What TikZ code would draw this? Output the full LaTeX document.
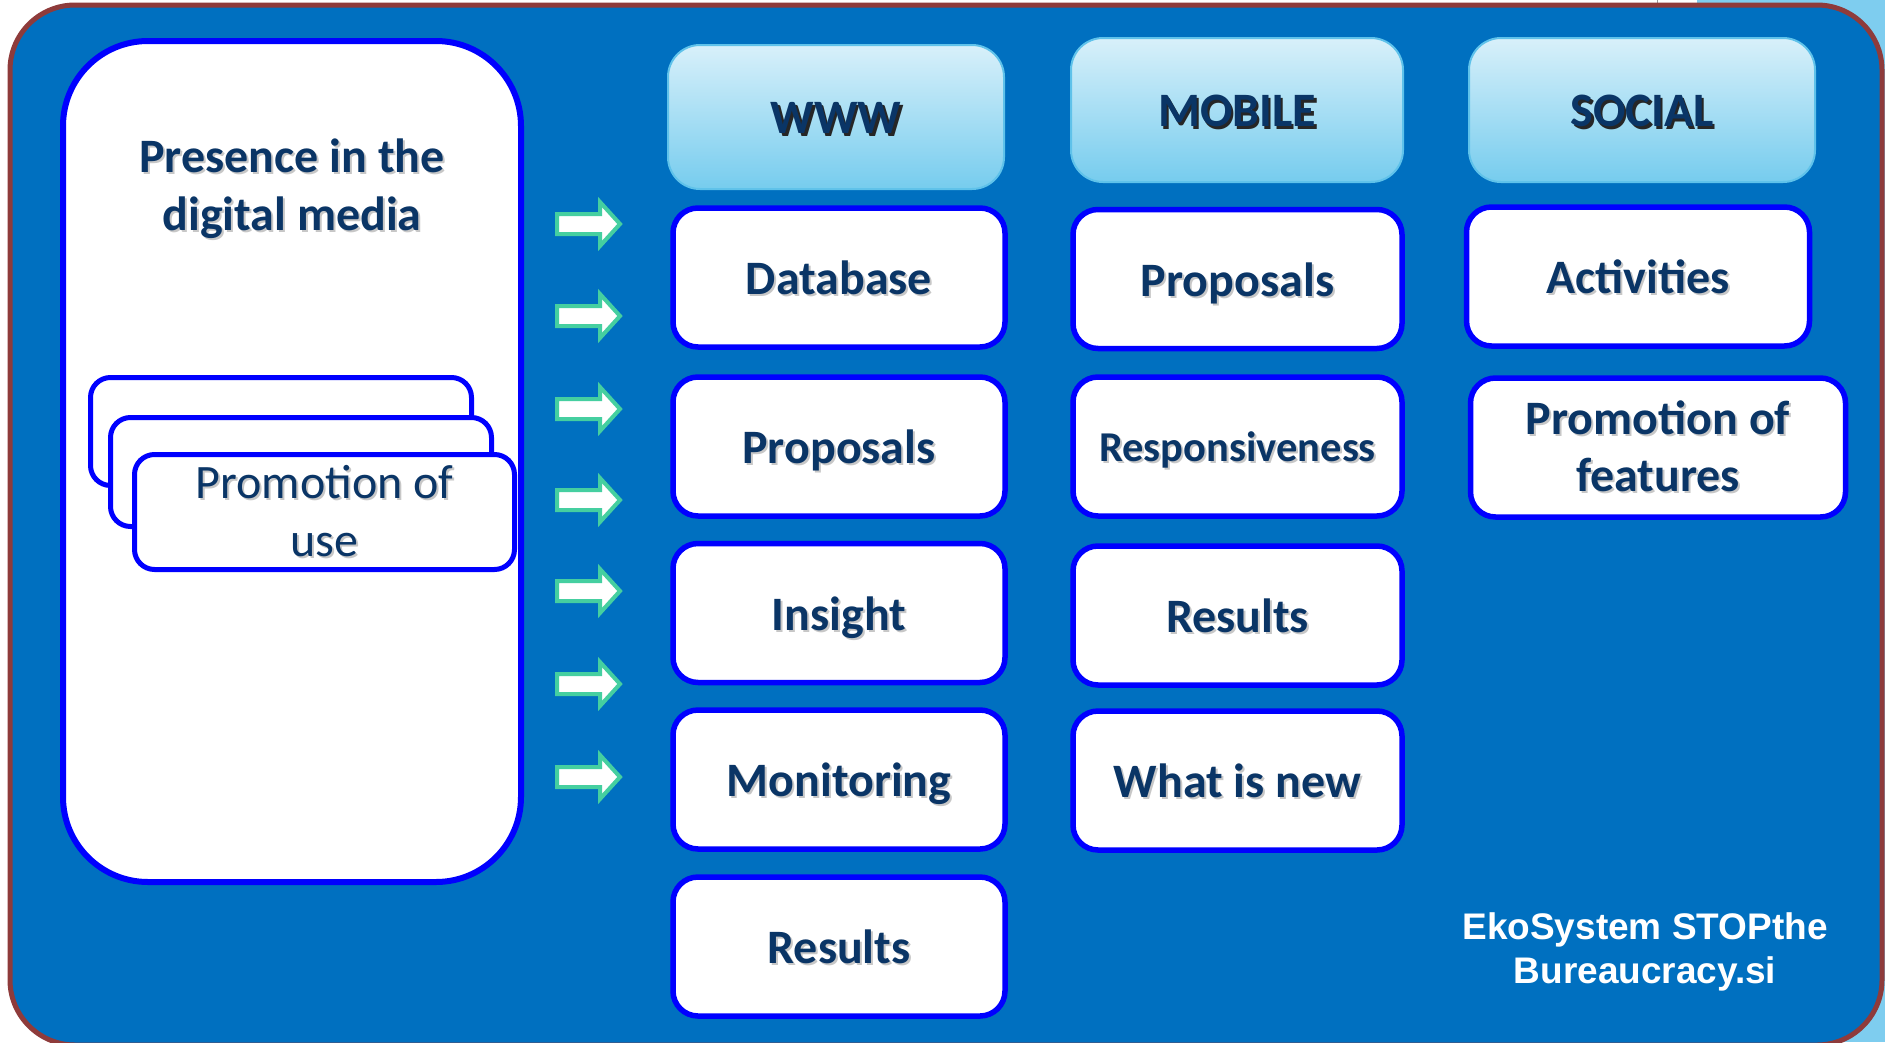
\documentclass[tikz,border=0pt]{standalone}
\usepackage{fontspec}
\setmainfont{Carlito}
\newfontfamily\arialfont{Liberation Sans}
\definecolor{bgblue}{HTML}{0070C0}
\definecolor{brownb}{HTML}{8E3B3B}
\definecolor{boxblue}{HTML}{0000FF}
\definecolor{navy}{HTML}{0A3566}
\definecolor{arrgreen}{HTML}{45CFA0}
\definecolor{hdtop}{HTML}{D8F0FA}
\definecolor{hdbot}{HTML}{76CCEE}
\definecolor{hdline}{HTML}{5FC2EA}
\definecolor{ltblue}{HTML}{7ECDEF}
\newcommand\shd[1]{\leavevmode\rlap{\kern2pt\raisebox{-2pt}{\textcolor{black!22}{#1}}}#1}
\newcommand\shdk[1]{\leavevmode\rlap{\kern2.5pt\raisebox{-2.5pt}{\textcolor{black!85}{#1}}}#1}
\begin{document}
\begin{tikzpicture}[x=1pt,y=-1pt,
  panelbox/.style={draw=boxblue, line width=6pt, fill=white, rounded corners=85pt, inner sep=0pt},
  card/.style={draw=boxblue, line width=5pt, fill=white, rounded corners=20pt, inner sep=0pt, text=navy, align=center},
  itembox/.style={draw=boxblue, line width=5.5pt, fill=white, rounded corners=25pt, inner sep=0pt,
     text=navy, align=center, minimum height=139pt, text height=40pt, text depth=6pt,
     font=\fontsize{48}{57}\selectfont\bfseries},
  hdr/.style={draw=hdline, line width=2pt, top color=hdtop, bottom color=hdbot, rounded corners=32pt,
     inner sep=0pt, text=navy, minimum height=144pt, text height=38pt, text depth=5pt,
     font=\fontsize{48}{58}\selectfont\bfseries},
  arr/.style={draw=arrgreen, line width=4pt, fill=white, line join=miter},
  wcol/.style={itembox, minimum width=332pt},
  mcol/.style={itembox, minimum width=329pt}
]
\useasboundingbox (0,0) rectangle (1885,1042);
\fill[white] (0,0) rectangle (1885,1042);
\fill[ltblue] (1697,0) rectangle (1885,1042);
\draw[black!40, line width=1pt] (1657,0) -- (1657,4);
% main frame
\draw[brownb, line width=5pt, fill=bgblue, rounded corners=65pt] (10,5) rectangle (1882,1045);

% left panel
\node[panelbox, minimum width=458pt, minimum height=841pt] (panel) at (292,461.5) {};
\node[text=navy, align=center, font=\fontsize{48}{58}\selectfont\bfseries] (title) at (292,190)
  {\shd{Presence in the}\\\shd{digital media}};
\node[card, minimum width=381pt, minimum height=108pt] (card1) at (281,431.5) {};
\node[card, minimum width=381pt, minimum height=109pt] (card2) at (301,472) {};
\node[card, minimum width=380pt, minimum height=115pt, font=\fontsize{48}{58}\selectfont] (card3) at (324.5,512)
  {\shd{Promotion of}\\\shd{use}};

% arrows
\foreach \yy in {224,316,409,500,591,684,777}
  \draw[arr] (557,\yy-10) -- (600,\yy-10) -- (600,\yy-22) -- (620,\yy) -- (600,\yy+22) -- (600,\yy+10) -- (557,\yy+10) -- cycle;

% headers
\node[hdr, minimum width=336pt] (hwww) at (836,117) {\shdk{WWW}};
\node[hdr, minimum width=332pt] (hmob) at (1237,110) {\shdk{MOBILE}};
\node[hdr, minimum width=346pt] (hsoc) at (1642,110) {\shdk{SOCIAL}};

% WWW column
\node[wcol] (db)    at (839,277.5) {\shd{Database}};
\node[wcol] (wprop) at (839,446.5) {\shd{Proposals}};
\node[wcol] (ins)   at (839,613)   {\shd{Insight}};
\node[wcol] (mon)   at (839,779.5) {\shd{Monitoring}};
\node[wcol] (wres)  at (839,946.5) {\shd{Results}};

% MOBILE column
\node[mcol] (mprop) at (1237.5,279)   {\shd{Proposals}};
\node[mcol, font=\fontsize{42.5}{52}\selectfont\bfseries, text height=36pt, text depth=6pt] (resp) at (1237.5,446.5) {\shd{Responsiveness}};
\node[mcol] (mres)  at (1237.5,615.5) {\shd{Results}};
\node[mcol] (new)   at (1237.5,780.5) {\shd{What is new}};

% SOCIAL column
\node[itembox, minimum width=343pt] (act)  at (1638,276.5) {\shd{Activities}};
\node[itembox, minimum width=375pt, text height=, text depth=] (feat) at (1658,447.5) {\shd{Promotion of}\\\shd{features}};

% footer
\node[text=white, align=center, font=\arialfont\fontsize{37}{44}\selectfont\bfseries] (foot) at (1645,952)
  {EkoSystem STOPthe\\Bureaucracy.si};
\end{tikzpicture}
\end{document}
